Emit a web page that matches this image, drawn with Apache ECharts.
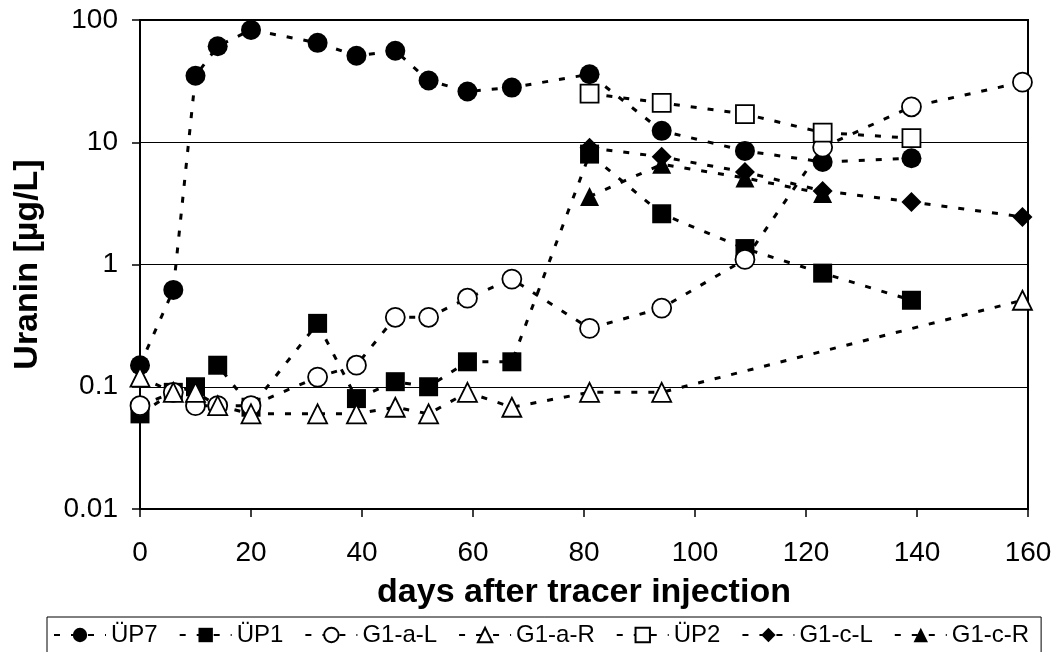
<!DOCTYPE html>
<html>
<head>
<meta charset="utf-8">
<script src="https://cdn.jsdelivr.net/npm/echarts@6/dist/echarts.min.js"></script>
<style>
  html, body { margin: 0; padding: 0; background: #fff; }
  #chart { width: 1055px; height: 652px; }
</style>
</head>
<body>
<div id="chart"></div>
<script>
// Uranin concentration at the sampling points, days after tracer injection
const daysUP7 = [0, 6, 10, 14, 20, 32, 39, 46, 52, 59, 67, 81, 94, 109, 123, 139];
const valUP7  = [0.15, 0.62, 35, 61, 83, 65, 51, 56, 32, 26, 28, 36, 12.4, 8.5, 6.9, 7.4];

const daysUP1 = [0, 6, 10, 14, 20, 32, 39, 46, 52, 59, 67, 81, 94, 109, 123, 139];
const valUP1  = [0.06, 0.09, 0.1, 0.15, 0.068, 0.33, 0.08, 0.11, 0.1, 0.16, 0.16, 8.0, 2.6, 1.35, 0.85, 0.51];

const daysG1aL = [0, 6, 10, 14, 20, 32, 39, 46, 52, 59, 67, 81, 94, 109, 123, 139, 159];
const valG1aL  = [0.07, 0.09, 0.07, 0.07, 0.07, 0.12, 0.15, 0.37, 0.37, 0.53, 0.76, 0.30, 0.44, 1.1, 9.1, 19.5, 31];

const daysG1aR = [0, 6, 10, 14, 20, 32, 39, 46, 52, 59, 67, 81, 94, 159];
const valG1aR  = [0.12, 0.09, 0.09, 0.07, 0.06, 0.06, 0.06, 0.068, 0.06, 0.09, 0.068, 0.09, 0.09, 0.51];

const daysUP2 = [81, 94, 109, 123, 139];
const valUP2  = [25, 21, 17, 12, 10.8];

const daysG1cL = [81, 94, 109, 123, 139, 159];
const valG1cL  = [9.0, 7.6, 5.7, 4.0, 3.25, 2.45];

const daysG1cR = [81, 94, 109, 123];
const valG1cR  = [3.6, 6.6, 5.1, 3.8];

const xTicks = [0, 20, 40, 60, 80, 100, 120, 140, 160];

const FONT = 'Liberation Sans, Arial, Helvetica, sans-serif';

function pairs(xs, ys) {
  return xs.map((x, i) => [x, ys[i]]);
}

const DASH = [6, 11];

function makeSeries(name, xs, ys, symbol, size, filled) {
  return {
    name: name,
    type: 'line',
    data: pairs(xs, ys),
    symbol: symbol,
    symbolSize: size,
    showAllSymbol: true,
    clip: false,
    lineStyle: { color: '#000', width: 3, type: DASH },
    itemStyle: {
      color: filled ? '#000' : '#fff',
      borderColor: '#000',
      borderWidth: filled ? 0 : 1.8,
      opacity: 1
    },
    emphasis: { disabled: true },
    animation: false
  };
}

const chart = echarts.init(document.getElementById('chart'), null, { renderer: 'canvas' });

chart.setOption({
  backgroundColor: '#fff',
  animation: false,
  grid: {
    left: 140, right: 27, top: 20, bottom: 143,
    show: true, borderColor: '#000', borderWidth: 2, backgroundColor: 'transparent'
  },
  xAxis: {
    type: 'value',
    min: xTicks[0],
    max: xTicks[xTicks.length - 1],
    interval: xTicks[1] - xTicks[0],
    name: 'days after tracer injection',
    nameLocation: 'middle',
    nameGap: 67,
    nameTextStyle: { fontFamily: FONT, fontSize: 34, fontWeight: 'bold', color: '#000' },
    axisLine: { show: true, lineStyle: { color: '#000', width: 2 } },
    axisTick: { show: true, inside: false, length: 8, lineStyle: { color: '#000', width: 1.5 } },
    axisLabel: { fontFamily: FONT, fontSize: 28, color: '#000', margin: 30 },
    splitLine: { show: false }
  },
  yAxis: {
    type: 'log',
    logBase: 10,
    min: 0.01,
    max: 100,
    name: 'Uranin [µg/L]',
    nameLocation: 'middle',
    nameRotate: 90,
    nameGap: 95,
    nameTextStyle: { fontFamily: FONT, fontSize: 34, fontWeight: 'bold', color: '#000' },
    axisLine: { show: true, lineStyle: { color: '#000', width: 2 } },
    axisTick: { show: true, inside: false, length: 8, lineStyle: { color: '#000', width: 1.5 } },
    axisLabel: {
      fontFamily: FONT, fontSize: 28, color: '#000', margin: 22,
      padding: [7, 0, 0, 0],
      formatter: v => String(Number(Number(v).toPrecision(6)))
    },
    splitLine: { show: true, lineStyle: { color: '#000', width: 1.2 } }
  },
  legend: {
    show: true,
    left: 47,
    top: 617,
    orient: 'horizontal',
    itemWidth: 52,
    itemHeight: 18,
    itemGap: 21,
    padding: [6, 12, 14, 6],
    borderColor: '#000',
    borderWidth: 1,
    backgroundColor: '#fff',
    selectedMode: false,
    textStyle: { fontFamily: FONT, fontSize: 24, color: '#000' },
    data: ['ÜP7', 'ÜP1', 'G1-a-L', 'G1-a-R', 'ÜP2', 'G1-c-L', 'G1-c-R']
  },
  tooltip: { show: false },
  series: [
    makeSeries('ÜP7', daysUP7, valUP7, 'circle', 20, true),
    makeSeries('ÜP1', daysUP1, valUP1, 'rect', 19, true),
    makeSeries('G1-a-L', daysG1aL, valG1aL, 'circle', 19, false),
    makeSeries('G1-a-R', daysG1aR, valG1aR, 'triangle', 19, false),
    makeSeries('ÜP2', daysUP2, valUP2, 'rect', 18, false),
    makeSeries('G1-c-L', daysG1cL, valG1cL, 'diamond', 20, true),
    makeSeries('G1-c-R', daysG1cR, valG1cR, 'triangle', 19, true)
  ]
});
</script>
</body>
</html>
